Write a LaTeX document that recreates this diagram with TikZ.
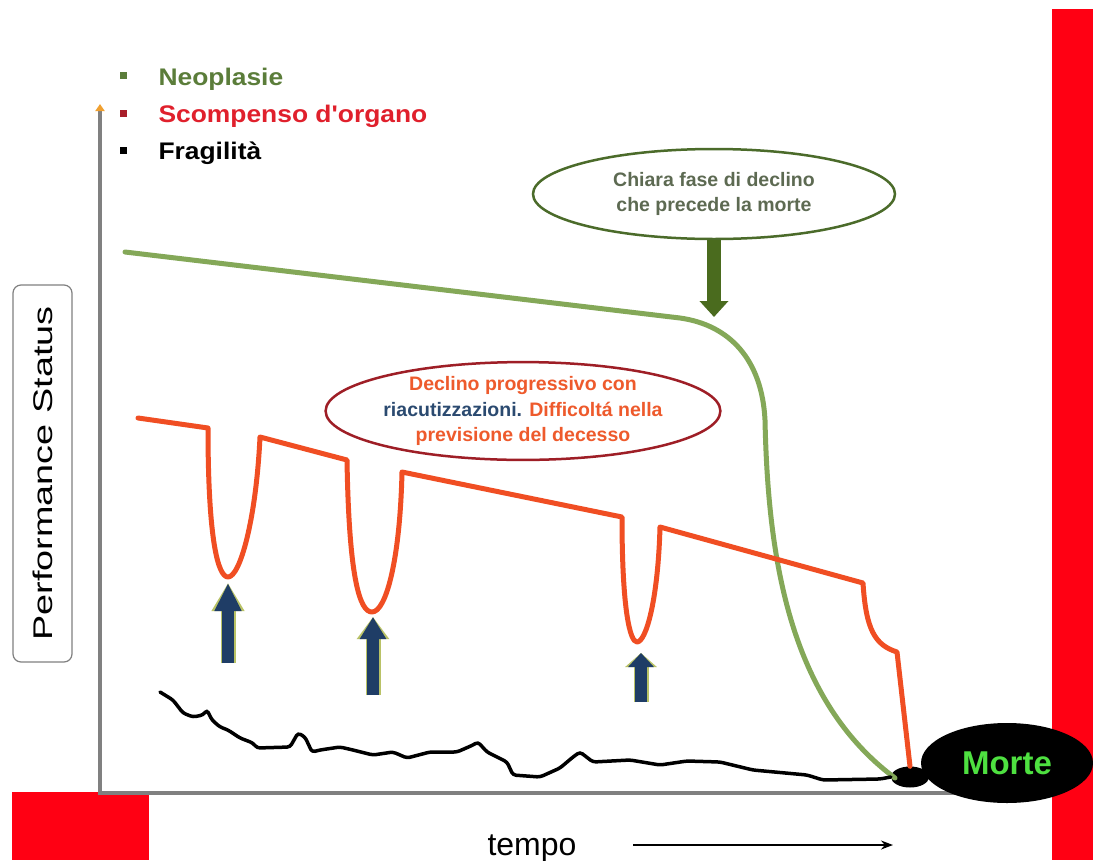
\documentclass[tikz,border=0pt]{standalone}
\usepackage{fontspec}
\setmainfont{Liberation Sans}
\newfontfamily\legendfont{Liberation Sans}[FakeStretch=1.1]
\newfontfamily\axisfont{Liberation Sans}[FakeStretch=1.4]
\usetikzlibrary{positioning}
\usetikzlibrary{shapes.geometric,arrows.meta}
\definecolor{neogreen}{HTML}{5B7D3A}
\definecolor{scored}{HTML}{E0202C}
\definecolor{bulletred}{HTML}{A81E2A}
\definecolor{curvegreen}{HTML}{84A858}
\definecolor{curvered}{HTML}{F04E23}
\definecolor{declgreen}{HTML}{4B6B2A}
\definecolor{declgray}{HTML}{5D6A52}
\definecolor{arrowgreen}{HTML}{4A6B1E}
\definecolor{declred}{HTML}{9E1E26}
\definecolor{declorange}{HTML}{EE5A2C}
\definecolor{riacblue}{HTML}{2B4A70}
\definecolor{navyup}{HTML}{1F3D66}
\definecolor{glowup}{HTML}{B9C266}
\definecolor{axisgray}{HTML}{808080}
\definecolor{barred}{HTML}{FF0013}
\definecolor{mortegreen}{HTML}{4EE040}
\definecolor{tiporange}{HTML}{F0A030}
\begin{document}
\begin{tikzpicture}[x=1pt,y=-1pt,
  curve/.style={line width=5pt,line join=round,line cap=round},
  bubble/.style={ellipse,line width=2.5pt,inner sep=0pt,align=center,font=\fontsize{19.5}{25.5}\selectfont\bfseries},
  fatup/.style={draw=navyup,line width=12pt,-{Triangle[width=25pt,length=#1pt]},
    preaction={draw=glowup,line width=15pt,-{Triangle[width=31pt,length=#1pt]}}},
  legendtxt/.style={anchor=base west,font=\fontsize{24}{28}\legendfont\bfseries},
  bullet/.style={minimum size=7pt,inner sep=0pt}]
\fill[white] (0,0) rectangle (1093,860);
\useasboundingbox (0,0) rectangle (1093,860);
\fill[barred] (1052,9) rectangle (1093,860);
\fill[barred] (12,792) rectangle (149,860);

\coordinate (origin) at (100,793);
\coordinate (ytop) at (100,104);
\coordinate (xend) at (1000,793);
\draw[axisgray,line width=4.5pt,{Triangle[width=9pt,length=7pt,color=tiporange]}-] (ytop) -- (origin) -- (xend);

\node[draw=axisgray,rounded corners=8pt,line width=1.2pt,minimum width=377pt,minimum height=59pt,
  rotate=90,font=\fontsize{27}{27}\axisfont] (ps) at (42.5,473.5) {Performance Status};

\node[ellipse,fill=black,minimum width=38pt,minimum height=21pt,inner sep=0pt] (end) at (910,777) {};

\draw[curve,curvegreen] (125,252) -- (680,318) coordinate (bend)
  .. controls (730,325) and (762,360) .. (765,420)
  .. controls (768,560) and (790,700) .. (895,778);

\draw[curve,curvered] (138,418) -- (208,428)
  .. controls (208,540) and (218,577) .. (228,577)
  .. controls (240,577) and (256,520) .. (260,437) -- (347,460)
  .. controls (349,580) and (360,612) .. (372,612)
  .. controls (386,612) and (400,560) .. (402,472) -- (622,517)
  .. controls (622,610) and (630,642) .. (637,642)
  .. controls (646,642) and (658,600) .. (660,527) -- (863,583)
  .. controls (866,630) and (875,645) .. (897,652) -- (end.north);

\draw[line width=3.5pt,rounded corners=3pt,line cap=round] (160,692) -- (173,700) -- (183,713) -- (193,717)
  -- (203,715) -- (207,710) -- (212,720) -- (220,727) -- (228,730) -- (240,738) -- (253,743)
  -- (257,748) -- (290,747) -- (298,733) -- (305,737) -- (312,752) -- (320,750) -- (340,747)
  -- (353,750) -- (373,755) -- (393,752) -- (407,758) -- (430,752) -- (457,752) -- (473,745)
  -- (478,742) -- (487,752) -- (507,762) -- (513,775) -- (540,777) -- (560,768) -- (573,757)
  -- (580,752) -- (593,762) -- (630,760) -- (660,765) -- (687,761) -- (720,762) -- (753,770)
  -- (807,775) -- (823,780) -- (880,779) -- (end.west);

\node[ellipse,fill=black,minimum width=172pt,minimum height=80pt,inner sep=0pt,
  text=mortegreen,font=\fontsize{33}{33}\selectfont\bfseries] (morte) at (1007,763) {Morte};

\node[bubble,draw=declgreen,text=declgray,minimum width=362pt,minimum height=90pt] (chiara) at (714,194)
  {Chiara fase di declino\\che precede la morte};
\coordinate (chiaratip) at (714,317);
\draw[arrowgreen,line width=14pt,-{Triangle[width=28pt,length=16pt]}] (chiara.south) -- (chiaratip);

\node[bubble,draw=declred,text=declorange,minimum width=360pt,minimum height=96pt] (declino) at (523,411)
  {Declino progressivo con\\\textcolor{riacblue}{riacutizzazioni.} Difficoltá nella\\previsione del decesso};

\coordinate (baseA) at (228,663);
\coordinate (tipA) at (228,583);
\coordinate (baseB) at (373,695);
\coordinate (tipB) at (373,617);
\coordinate (baseC) at (641,702);
\coordinate (tipC) at (641,653);
\draw[fatup=28] (baseA) -- (tipA);
\draw[fatup=22] (baseB) -- (tipB);
\draw[fatup=14] (baseC) -- (tipC);

\node[bullet,fill=neogreen] (bneo) at (123,75) {};
\node[bullet,fill=bulletred] (bsco) at (123,113) {};
\node[bullet,fill=black] (bfra) at (123,150) {};
\node[legendtxt,text=neogreen] (neo) at (155,85) {Neoplasie};
\node[legendtxt,text=scored] (sco) at (155,122) {Scompenso d'organo};
\node[legendtxt,text=black] (fra) at (155,159) {Fragilità};

\node[anchor=base,font=\fontsize{32}{32}\selectfont] (tempo) at (532,855) {tempo};
\coordinate (tstart) at (633,845);
\coordinate (tend) at (893,845);
\draw[line width=1.6pt,-{Stealth[length=12pt,width=9pt]}] (tstart) -- (tend);
\end{tikzpicture}
\end{document}
